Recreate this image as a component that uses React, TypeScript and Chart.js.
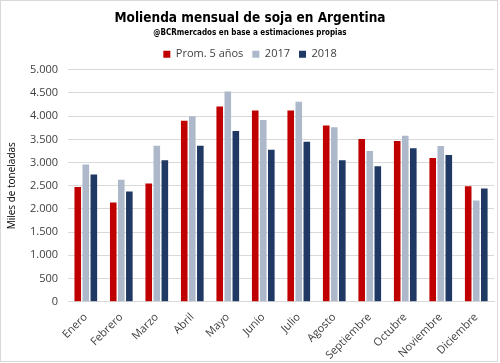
import React, { useEffect, useRef } from "react";
import { Chart, registerables } from "chart.js";

Chart.register(...registerables);

const categories = ["Enero", "Febrero", "Marzo", "Abril", "Mayo", "Junio", "Julio", "Agosto", "Septiembre", "Octubre", "Noviembre", "Diciembre"];
const prom5 = [2470, 2140, 2550, 3900, 4210, 4120, 4120, 3800, 3510, 3465, 3100, 2490];
const y2017 = [2960, 2630, 3360, 4000, 4530, 3920, 4310, 3760, 3250, 3580, 3355, 2180];
const y2018 = [2740, 2375, 3050, 3360, 3680, 3275, 3450, 3050, 2920, 3310, 3165, 2440];
const yTicks = [0, 500, 1000, 1500, 2000, 2500, 3000, 3500, 4000, 4500, 5000];

const fmt = (v: number) => String(v).replace(/\B(?=(\d{3})+(?!\d))/g, ".");

const frame = {
  id: "frame",
  afterDraw(chart: any) {
    const c = chart.ctx;
    c.save();
    c.strokeStyle = "#D9D9D9";
    c.lineWidth = 1;
    c.strokeRect(0.5, 0.5, 497, 361);
    c.restore();
  },
};

export default function App() {
  const ref = useRef<HTMLCanvasElement>(null);
  useEffect(() => {
    const tickFont = { family: "Open Sans", size: 11 };
    const chart = new Chart(ref.current!, {
      type: "bar",
      data: {
        labels: categories,
        datasets: [
          { label: "Prom. 5 años", data: prom5, backgroundColor: "#C00000" },
          { label: "2017", data: y2017, backgroundColor: "#ADB9CA" },
          { label: "2018", data: y2018, backgroundColor: "#1F3864" },
        ],
      },
      options: {
        animation: false,
        responsive: false,
        layout: { padding: { left: 6, right: 6, top: 3, bottom: 0 } },
        datasets: { bar: { categoryPercentage: 0.68, barPercentage: 0.82 } },
        plugins: {
          title: {
            display: true,
            text: "Molienda mensual de soja en Argentina",
            font: { family: "DejaVu Sans Condensed", weight: "bold", size: 13.5 },
            color: "#000",
            padding: { top: 7, bottom: 2 },
          },
          subtitle: {
            display: true,
            text: "@BCRmercados en base a estimaciones propias",
            font: { family: "DejaVu Sans Condensed", weight: "bold", size: 8 },
            color: "#000",
            padding: { top: 0, bottom: 2 },
          },
          legend: {
            labels: {
              boxWidth: 7,
              boxHeight: 7,
              font: { family: "Open Sans", size: 11 },
              color: "#404040",
              padding: 9,
            },
          },
          tooltip: { enabled: false },
        },
        scales: {
          x: {
            grid: { display: false },
            border: { color: "#D9D9D9" },
            ticks: { font: tickFont, color: "#404040", maxRotation: 45, minRotation: 45, padding: 1 },
          },
          y: {
            min: 0,
            max: 5000,
            afterBuildTicks: (axis: any) => {
              axis.ticks = yTicks.map((v) => ({ value: v }));
            },
            grid: { color: "#D9D9D9", drawTicks: false },
            border: { display: false },
            ticks: { font: tickFont, color: "#404040", padding: 10, callback: (v: any) => fmt(Number(v)) },
            title: {
              display: true,
              text: "Miles de toneladas",
              font: { family: "Open Sans", size: 10 },
              color: "#000",
              padding: { top: 0, bottom: 2 },
            },
          },
        },
      },
      plugins: [frame],
    });
    return () => chart.destroy();
  }, []);
  return (
    <div style={{ position: "absolute", left: 0, top: 0, width: 500, height: 363, background: "#fff" }}>
      <canvas ref={ref} width={500} height={363} />
    </div>
  );
}
